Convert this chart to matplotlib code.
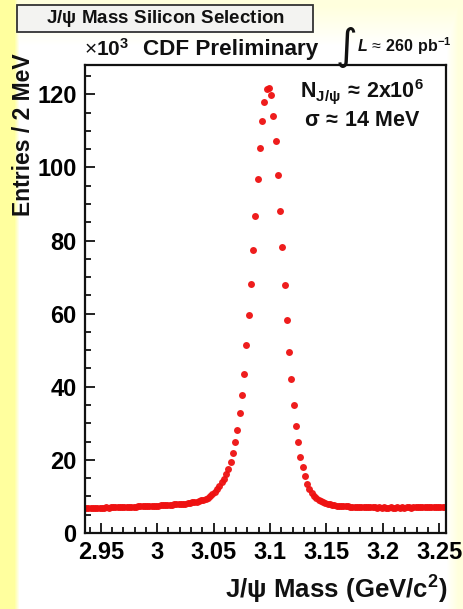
import numpy as np
import matplotlib
matplotlib.use("Agg")
import matplotlib.pyplot as plt
from matplotlib.patches import FancyBboxPatch
from matplotlib.ticker import MultipleLocator, FixedLocator

plt.rcParams['font.family'] = ['Liberation Sans', 'DejaVu Sans']
plt.rcParams['mathtext.fontset'] = 'custom'
plt.rcParams['mathtext.rm'] = 'Liberation Sans'
plt.rcParams['mathtext.bf'] = 'Liberation Sans:bold'
plt.rcParams['mathtext.it'] = 'Liberation Sans:italic:bold'

# Histogram: 2 MeV bins from 2.936 to 3.256 GeV/c^2, entries in units of 10^3
bin_lo = 2.936
bin_width = 0.002
entries_k = [
    # 2.937 - 3.063 (left sideband and radiative tail)
    6.85, 6.90, 6.80, 6.90, 6.85, 6.95, 6.90, 6.95, 6.90, 7.00,
    6.95, 7.00, 7.05, 7.00, 7.05, 7.10, 7.05, 7.10, 7.15, 7.10,
    7.15, 7.20, 7.20, 7.25, 7.25, 7.30, 7.30, 7.35, 7.40, 7.40,
    7.45, 7.50, 7.50, 7.55, 7.60, 7.65, 7.65, 7.70, 7.75, 7.80,
    7.85, 7.90, 7.95, 8.00, 8.05, 8.15, 8.25, 8.35, 8.45, 8.60,
    8.75, 8.90, 9.10, 9.35, 9.65, 10.05, 10.55, 11.20, 11.95, 12.80,
    13.85, 14.90, 16.20, 17.60,
    # 3.065 - 3.131 (peak)
    19.5, 21.9, 24.8, 28.3, 32.9, 37.7, 43.5, 51.3, 59.5, 68.0,
    77.3, 86.8, 96.9, 105.4, 112.6, 117.8, 121.5, 121.8, 119.8, 114.0,
    107.3, 98.0, 88.2, 78.3, 67.8, 58.3, 49.4, 42.0, 35.0, 29.4,
    24.9, 20.9, 18.0, 15.6,
    # 3.133 - 3.255 (right sideband)
    13.5, 12.0, 11.0, 10.2, 9.6, 9.1, 8.7, 8.4, 8.15, 7.95,
    7.80, 7.70, 7.60, 7.50, 7.45, 7.40, 7.35, 7.30, 7.25, 7.20,
    7.20, 7.15, 7.10, 7.10, 7.05, 7.10, 7.05, 7.00, 7.05, 7.00,
    7.00, 6.95, 7.00, 6.95, 7.00, 6.95, 6.95, 7.00, 6.95, 6.95,
    7.00, 6.95, 7.00, 6.95, 7.00, 7.00, 6.95, 7.00, 7.00, 7.05,
    7.00, 7.05, 7.00, 7.05, 7.05, 7.10, 7.05, 7.10, 7.10, 7.15,
    7.15, 7.20,
]
mass = bin_lo + bin_width * (np.arange(len(entries_k)) + 0.5)

x_major = [2.95, 3.00, 3.05, 3.10, 3.15, 3.20, 3.25]
x_labels = ["2.95", "3", "3.05", "3.1", "3.15", "3.2", "3.25"]
y_major = [0, 20, 40, 60, 80, 100, 120]

W, H = 463, 609
fig = plt.figure(figsize=(W / 100, H / 100), dpi=100)

# slide-style backdrop: yellow strip on the left, pale yellow wash at the edges
xx, yy = np.meshgrid(np.arange(W), np.arange(H))
a_strip = np.clip((19 - xx) / 5.0, 0, 1)
a_top = 0.35 * np.clip((45 - yy) / 40.0, 0, 1)
a_right = 0.35 * np.clip((xx - 446) / 12.0, 0, 1)
alpha = np.maximum(a_strip, np.maximum(a_top, a_right))
yellow = np.array([1.0, 1.0, 0.62])
bg = (1 - alpha[..., None]) * np.ones(3) + alpha[..., None] * yellow
bg_ax = fig.add_axes([0, 0, 1, 1], zorder=-10)
bg_ax.imshow(bg, aspect='auto', interpolation='bilinear')
bg_ax.axis('off')

ax = fig.add_axes([85 / W, 1 - 533 / H, 361 / W, 468 / H])
ax.set_facecolor('white')
ax.plot(mass, entries_k, 'o', color='#ee1111', markersize=5,
        markeredgewidth=0, alpha=0.95)

ax.set_xlim(2.936, 3.256)
ax.set_ylim(0, 128)
ax.xaxis.set_major_locator(FixedLocator(x_major))
ax.set_xticklabels(x_labels)
ax.xaxis.set_minor_locator(MultipleLocator(0.01))
ax.yaxis.set_major_locator(FixedLocator(y_major))
ax.yaxis.set_minor_locator(MultipleLocator(5))
ax.tick_params(which='both', direction='in', top=False, right=False,
               width=1.3, color='#111111')
ax.tick_params(which='major', length=7.5, labelsize=17, pad=6)
ax.tick_params(which='minor', length=4)
for lab in ax.get_xticklabels() + ax.get_yticklabels():
    lab.set_fontweight('bold')
for sp in ax.spines.values():
    sp.set_linewidth(1.6)
    sp.set_color('#111111')

# axis titles
fig.text(447 / W, 1 - 590 / H, r"$\mathbf{J/\psi\ Mass\ (GeV/c^{2})}$",
         ha='right', va='center', fontsize=18.5, color='#111111')
fig.text(24 / W, 1 - 135 / H, "Entries / 2 MeV", rotation=90,
         ha='center', va='center', fontsize=16.5, fontweight='bold',
         color='#111111')

# headline box
box = FancyBboxPatch((17 / W, 1 - 32 / H), 296 / W, 27 / H,
                     boxstyle='square,pad=0', transform=fig.transFigure,
                     facecolor='#f3f3f1', edgecolor='#333333', linewidth=1.3)
fig.patches.append(box)
fig.text(165 / W, 1 - 18.5 / H, r"$\mathbf{J/\psi\ Mass\ Silicon\ Selection}$",
         ha='center', va='center', fontsize=13.5, color='#111111')

# labels above the frame
fig.text(84 / W, 1 - 49 / H, r"$\times\mathbf{10^{3}}$", ha='left',
         va='center', fontsize=15, color='#111111')
fig.text(143 / W, 1 - 49 / H, "CDF Preliminary", ha='left', va='center',
         fontsize=16.2, fontweight='bold', color='#111111')
fig.text(346 / W, 1 - 47 / H, "\u222b", ha='center', va='center',
         fontsize=30, family='DejaVu Sans', color='#111111')
fig.text(357 / W, 1 - 46 / H, r"$\mathit{L}\,\approx\,\mathbf{260\ pb^{-1}}$",
         ha='left', va='center', fontsize=11.5, color='#111111')

# fit summary
fig.text(362 / W, 1 - 92 / H, r"$\mathbf{N_{J/\psi}\,\approx\,2x10^{6}}$",
         ha='center', va='center', fontsize=15.5, color='#111111')
fig.text(362 / W, 1 - 120 / H, r"$\mathbf{\sigma\,\approx\,14\ MeV}$",
         ha='center', va='center', fontsize=15.5, color='#111111')

fig.savefig("out.png", dpi=100)
